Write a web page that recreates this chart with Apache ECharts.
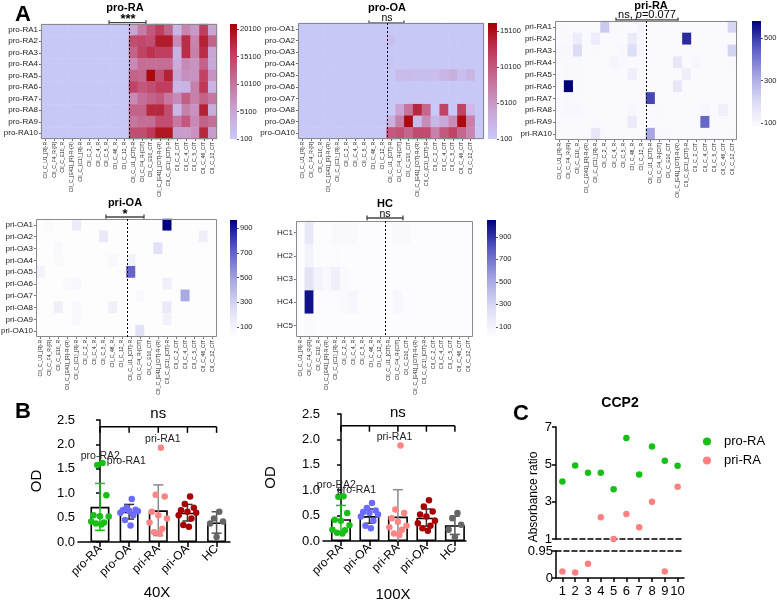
<!DOCTYPE html>
<html><head><meta charset="utf-8">
<script src="https://cdn.jsdelivr.net/npm/echarts@6.0.0/dist/echarts.min.js"></script>
<style>html,body{margin:0;padding:0;background:#fff;}#chart{width:777px;height:602px;}</style>
</head><body><div id="chart"></div>
<script>
// ================= DATA =================
const heatCols = ['CII_C_U1_[R]-R','CII_C_F4_R-[R]','CII_C_E10_R','CII_C_[E41]_[R]-R-(R)','CII_C_(C1)_[R]-R','CII_C_2_R','CII_C_4_R','CII_C_5_R','CII_C_46_R','CII_C_12_R','CII_C_U1_[CIT]-R','CII_C_F4_R-[CIT]','CII_C_E10_CIT','CII_C_[E41]_[CIT]-R-(R)','CII_C_(C1)_[CIT]-R','CII_C_2_CIT','CII_C_4_CIT','CII_C_5_CIT','CII_C_46_CIT','CII_C_12_CIT'];
const proRARows = ['pro-RA1','pro-RA2','pro-RA3','pro-RA4','pro-RA5','pro-RA6','pro-RA7','pro-RA8','pro-RA9','pro-RA10'];
const proOARows = ['pro-OA1','pro-OA2','pro-OA3','pro-OA4','pro-OA5','pro-OA6','pro-OA7','pro-OA8','pro-OA9','pro-OA10'];
const priRARows = ['pri-RA1','pri-RA2','pri-RA3','pri-RA4','pri-RA5','pri-RA6','pri-RA7','pri-RA8','pri-RA9','pri-RA10'];
const priOARows = ['pri-OA1','pri-OA2','pri-OA3','pri-OA4','pri-OA5','pri-OA6','pri-OA7','pri-OA8','pri-OA9','pri-OA10'];
const hcRows = ['HC1','HC2','HC3','HC4','HC5'];

const proRAHeat = [
 [100,100,100,100,100,100,100,100,100,100, 5000,9500,13000,15500,12000,2500,8500,6500,15500,5000],
 [100,100,100,100,100,100,100,100,100,100, 14000,14500,14000,18500,18500,8000,17000,8500,18000,12000],
 [100,100,100,100,100,100,100,100,100,100, 12000,15000,16500,15500,15500,3000,17000,9000,17000,5000],
 [100,100,100,100,100,100,100,100,100,100, 8000,11000,11000,11000,11000,4000,8000,7000,12000,4500],
 [100,100,100,100,100,100,100,100,100,100, 12000,11500,20100,14000,18000,5000,7500,7000,15000,7000],
 [100,100,100,100,100,100,100,100,100,100, 15000,13000,14000,15500,15500,2500,3000,9000,16000,3000],
 [100,100,100,100,100,100,100,100,100,100, 8000,11000,12000,13000,10000,8000,12500,9000,12000,10000],
 [100,100,100,100,100,100,100,100,100,100, 12000,12000,17500,17500,14000,2500,9000,7000,18000,4000],
 [100,100,100,100,100,100,100,100,100,100, 10000,11000,11000,14000,14000,10000,13000,8000,12000,11000],
 [100,100,100,100,100,100,100,100,100,100, 14000,14000,16000,19000,19000,6000,6000,7000,17500,6000]
];
const proOAHeat = [
 [100,100,100,100,100,100,100,100,100,100, 100,100,100,100,100,100,100,100,100,100],
 [100,100,100,100,100,100,100,100,100,100, 1000,100,100,100,100,100,100,100,100,100],
 [100,100,100,100,100,100,100,100,100,100, 100,100,100,100,100,100,100,100,100,100],
 [100,100,100,100,100,100,100,100,100,100, 500,100,100,100,100,100,100,100,100,100],
 [100,100,100,100,100,100,100,100,100,100, 100,1500,1500,1300,1300,1300,2200,2800,1300,2200],
 [100,100,100,100,100,100,100,100,100,100, 100,100,100,100,100,100,100,100,100,100],
 [100,100,100,100,100,100,100,100,100,100, 100,100,100,100,100,100,100,100,100,100],
 [100,100,100,100,100,100,100,100,100,100, 100,4000,8000,13500,9000,100,11500,100,11500,1500],
 [100,100,100,100,100,100,100,100,100,100, 2500,7000,15500,1500,6000,2000,3500,6000,15500,7000],
 [100,100,100,100,100,100,100,100,100,100, 10000,10500,9000,11000,11000,7000,10000,11500,9000,6500]
];
const priRAHeat = [
 [95,90,90,90,90,240,95,90,90,110, 90,90,90,90,90,90,90,90,90,210],
 [90,95,140,90,140,90,90,90,150,100, 85,90,90,90,520,90,90,90,90,90],
 [100,100,200,90,95,90,90,100,190,100, 90,90,90,90,90,90,90,90,90,220],
 [90,95,95,90,90,90,110,95,90,90, 90,90,90,160,90,105,90,90,90,95],
 [90,95,95,90,90,90,90,90,130,90, 90,90,90,90,130,90,90,90,90,90],
 [90,580,95,90,90,90,90,90,90,90, 90,90,90,160,90,90,90,90,90,90],
 [90,95,90,90,90,90,90,90,90,90, 480,90,90,90,90,90,90,90,90,90],
 [95,100,100,90,90,90,90,90,100,90, 90,95,90,90,90,90,105,90,130,90],
 [90,90,90,90,90,90,90,90,150,90, 90,90,90,90,90,90,430,90,90,90],
 [90,90,90,90,160,90,90,90,90,90, 320,95,95,90,90,90,90,90,90,95]
];
const priOAHeat = [
 [35,50,35,35,150,35,35,35,35,35, 35,35,35,35,965,35,35,35,35,35],
 [35,35,35,35,35,35,35,170,35,35, 35,35,35,35,35,35,35,35,130,35],
 [35,35,60,35,35,35,35,35,35,35, 35,35,35,220,35,35,35,35,35,35],
 [35,35,55,35,35,35,35,35,60,35, 110,35,35,35,35,35,35,35,35,35],
 [110,35,35,35,35,35,35,35,35,35, 700,35,35,35,35,35,35,35,35,35],
 [35,35,35,55,70,35,35,35,35,35, 35,35,35,35,120,35,35,35,35,35],
 [35,35,35,35,35,35,35,35,35,35, 35,50,35,35,35,35,470,35,35,35],
 [35,35,120,35,60,35,35,35,120,35, 35,35,35,35,160,35,35,35,35,35],
 [35,35,35,35,60,35,35,35,35,35, 35,35,35,35,110,35,35,35,35,35],
 [35,35,35,35,35,35,35,35,35,35, 35,210,35,35,35,35,35,35,35,35]
];
const hcHeat = [
 [30,180,30,30,60,60,55,30,30,30, 30,55,60,30,30,30,30,30,30,30],
 [30,100,30,30,40,30,30,30,30,30, 30,30,30,30,30,30,30,30,30,30],
 [30,210,100,60,120,50,30,30,30,30, 30,30,30,30,30,30,30,30,30,30],
 [30,1000,30,30,40,50,80,30,30,30, 30,70,30,30,30,30,30,30,30,30],
 [30,50,30,30,30,30,30,30,30,30, 30,30,30,30,30,30,30,30,30,30]
];
const proRATicks = [100,5100,10100,15100,20100];
const proOATicks = [100,5100,10100,15100];
const priRATicks = [100,300,500];
const priOATicks = [100,300,500,700,900];
const hcTicks = [100,300,500,700,900];

const barCats40 = ['pro-RA','pro-OA','pri-RA','pri-OA','HC'];
const barCats100 = ['pro-RA','pri-OA','pri-RA','pri-OA','HC'];
const mean40 = [0.72,0.62,0.65,0.60,0.40];
const sd40 = [0.48,0.15,0.52,0.17,0.22];
const mean100 = [0.43,0.49,0.48,0.46,0.31];
const sd100 = [0.27,0.14,0.53,0.17,0.18];
const od40_proRA = [1.62,1.58,0.96,0.55,0.53,0.52,0.42,0.40,0.38,0.36];
const od40_proOA = [0.88,0.70,0.66,0.65,0.64,0.63,0.60,0.55,0.45,0.34];
const od40_priRA = [1.93,0.97,0.93,0.62,0.55,0.48,0.40,0.27,0.20,0.17];
const od40_priOA = [0.93,0.78,0.70,0.65,0.62,0.60,0.55,0.48,0.35,0.31];
const od40_HC = [0.62,0.48,0.42,0.38,0.10];
const od100_proRA = [0.88,0.87,0.55,0.42,0.40,0.31,0.22,0.21,0.16,0.15];
const od100_g2 = [0.75,0.65,0.60,0.57,0.55,0.52,0.48,0.40,0.30,0.25];
const od100_priRA = [1.88,0.62,0.55,0.45,0.38,0.30,0.27,0.22,0.15,0.12];
const od100_priOA = [0.80,0.68,0.58,0.52,0.48,0.40,0.35,0.30,0.25,0.20];
const od100_HC = [0.55,0.45,0.32,0.22,0.08];

const ccpIdx = ['1','2','3','4','5','6','7','8','9','10'];
const ccpProRA = [4.08,4.94,4.55,4.55,3.67,6.41,4.46,5.95,5.19,4.92];
const ccpPriRA = [0.23,0.19,0.50,2.16,1.00,2.34,1.63,2.99,0.23,3.80];
const ccpUpperTicks = [1,3,5,7];
const ccpLowerTicks = [0,0.95];

// ================= STYLE / BUILD =================
const FONT = '"Liberation Sans", Arial, Helvetica, sans-serif';
const redScale = ['#c8c8f7', '#c9a3d3', '#c5729a', '#bf3b5c', '#a50000'];
const blueScale = ['#ffffff', '#dcdcf5', '#a4a4e2', '#5a5ac4', '#00007c'];
const grpColors = ['#16c016', '#6b6bff', '#ff8585', '#a80000', '#666666'];
const errColors = ['#16c016', '#333333', '#8a8a8a', '#333333', '#555555'];
const J = [0.09, -0.09, 0.22, -0.22, 0.0, 0.3, -0.3, 0.14, -0.14, 0.05];

const opt = {animation:false, backgroundColor:'#fff', textStyle:{fontFamily:FONT},
  grid:[], xAxis:[], yAxis:[], series:[], visualMap:[], graphic:{elements:[]}};

function addHeat(rows, vals, L, cb, colors, range, ticks, pad) {
  const gi = opt.grid.length;
  opt.grid.push({left:L.x, top:L.y, width:L.w, height:L.h, outerBoundsMode:'none'});
  const cats = pad ? heatCols.concat(['']) : heatCols.slice();
  const xi = opt.xAxis.length, yi = opt.yAxis.length;
  opt.xAxis.push({type:'category', gridIndex:gi, data:cats,
    axisLine:{show:false},
    axisTick:{show:true, alignWithLabel:true, length:2, interval:(i)=>i<heatCols.length, lineStyle:{color:'#666'}},
    axisLabel:{rotate:90, fontSize:5, interval:0, margin:3, color:'#222', fontFamily:FONT},
    splitLine:{show:false}});
  opt.yAxis.push({type:'category', gridIndex:gi, data:rows, inverse:true,
    axisLine:{show:false}, splitLine:{show:false},
    axisTick:{show:true, alignWithLabel:true, length:2, lineStyle:{color:'#666'}},
    axisLabel:{fontSize:8, margin:3, color:'#222', fontFamily:FONT}});
  const data = [];
  vals.forEach((r, ri) => r.forEach((v, ci) => data.push([ci, ri, v])));
  if (pad) rows.forEach((_, ri) => data.push([heatCols.length, ri, range[0]]));
  const si = opt.series.length;
  opt.series.push({type:'heatmap', xAxisIndex:xi, yAxisIndex:yi, data, itemStyle:{borderWidth:0}, emphasis:{disabled:true}, progressive:0, silent:true, z:2});
  opt.visualMap.push({type:'continuous', show:false, seriesIndex:si, dimension:2, min:range[0], max:range[1], inRange:{color:colors}});
  // frame + dotted divider between the two column groups
  opt.series.push({type:'custom', xAxisIndex:xi, yAxisIndex:yi, silent:true, z:6, clip:false, data:[[0,0]],
    renderItem:(params, api) => {
      const cs = params.coordSys;
      const xm = Math.round(cs.x + cs.width * (heatCols.length/2) / cats.length) + 0.5;
      return {type:'group', children:[
        {type:'rect', shape:{x:cs.x+0.5, y:cs.y+0.5, width:cs.width-1, height:cs.height-1}, style:{fill:'none', stroke:'#8a8a8a', lineWidth:1}},
        {type:'line', shape:{x1:xm, y1:cs.y, x2:xm, y2:cs.y+cs.height}, style:{stroke:'#000', lineWidth:1, lineDash:[2,2]}}
      ]};
    }});
  // colour bar
  const cg = opt.grid.length;
  opt.grid.push({left:cb.x, top:cb.y, width:cb.w, height:cb.h, outerBoundsMode:'none'});
  const cx = opt.xAxis.length, cy = opt.yAxis.length;
  opt.xAxis.push({type:'category', gridIndex:cg, data:['c'], show:false});
  opt.yAxis.push({type:'value', gridIndex:cg, min:range[0], max:range[1], position:'right',
    axisLine:{show:false}, splitLine:{show:false},
    axisTick:{show:true, length:2, customValues:ticks, lineStyle:{color:'#555'}},
    axisLabel:{customValues:ticks, formatter:(v)=>String(v), fontSize:7.5, margin:3, color:'#222', fontFamily:FONT}});
  opt.series.push({type:'bar', xAxisIndex:cx, yAxisIndex:cy, stack:'cb'+cg, data:[range[0]], barWidth:'100%', silent:true, itemStyle:{color:'rgba(0,0,0,0)'}});
  opt.series.push({type:'bar', xAxisIndex:cx, yAxisIndex:cy, stack:'cb'+cg, data:[range[1]-range[0]], barWidth:'100%', silent:true,
    itemStyle:{color:new echarts.graphic.LinearGradient(0,1,0,0, colors.map((c,i)=>({offset:i/(colors.length-1), color:c})))}});
}

addHeat(proRARows, proRAHeat, {x:41,y:24,w:176,h:115}, {x:230,y:24,w:7,h:115}, redScale, [100,21000], proRATicks, false);
addHeat(proOARows, proOAHeat, {x:298,y:23,w:186,h:116}, {x:488,y:23,w:9,h:116}, redScale, [100,16200], proOATicks, true);
addHeat(priRARows, priRAHeat, {x:555,y:21,w:182,h:119}, {x:752,y:21,w:9,h:108}, blueScale, [72,580], priRATicks, false);
addHeat(priOARows, priOAHeat, {x:36,y:219,w:181,h:118}, {x:230,y:220,w:7,h:117}, blueScale, [19,965], priOATicks, false);
addHeat(hcRows, hcHeat, {x:296,y:221,w:177,h:116}, {x:487,y:220,w:9,h:117}, blueScale, [10,1050], hcTicks, false);

function addBarPanel(p) {
  const gi = opt.grid.length;
  opt.grid.push({left:p.x, top:p.y, width:p.w, height:p.h, outerBoundsMode:'none'});
  const xi = opt.xAxis.length, yi = opt.yAxis.length;
  const idx = p.cats.map((_, i) => i);
  opt.xAxis.push({type:'value', gridIndex:gi, min:p.xmin, max:p.xmax, splitLine:{show:false},
    axisLine:{show:true, onZero:false, lineStyle:{color:'#000', width:1.5}},
    axisTick:{show:true, customValues:idx, length:5, lineStyle:{color:'#000', width:1.5}},
    axisLabel:{customValues:idx, formatter:(v)=>p.cats[Math.round(v)], rotate:45, fontSize:12, color:'#000', margin:5, fontFamily:FONT}});
  opt.yAxis.push({type:'value', gridIndex:gi, min:0, max:2.5, interval:0.5, splitLine:{show:false},
    axisLine:{show:true, lineStyle:{color:'#000', width:1.5}},
    axisTick:{show:true, length:4, lineStyle:{color:'#000', width:1.5}},
    axisLabel:{formatter:(v)=>v.toFixed(1), fontSize:13, color:'#000', margin:3, fontFamily:FONT},
    name:'OD', nameLocation:'middle', nameGap:p.nameGap, nameTextStyle:{fontSize:15, color:'#000', fontFamily:FONT}});
  opt.series.push({type:'bar', xAxisIndex:xi, yAxisIndex:yi, data:p.means.map((m,i)=>[i,m]), barWidth:p.barW, silent:true,
    itemStyle:{color:'#fff', borderColor:'#000', borderWidth:1.6}, z:2});
  opt.series.push({type:'custom', xAxisIndex:xi, yAxisIndex:yi, silent:true, z:3,
    data:p.means.map((m,i)=>[i, m-p.sds[i], m+p.sds[i]]),
    renderItem:(params, api) => {
      const x = api.value(0), lo = api.value(1), hi = api.value(2);
      const t = api.coord([x, hi]), b = api.coord([x, Math.max(lo, 0)]);
      const col = errColors[params.dataIndex], w = 5;
      const st = {stroke:col, lineWidth:1.5};
      const ch = [{type:'line', shape:{x1:t[0], y1:t[1], x2:b[0], y2:b[1]}, style:st},
                  {type:'line', shape:{x1:t[0]-w, y1:t[1], x2:t[0]+w, y2:t[1]}, style:st}];
      if (lo > 0) ch.push({type:'line', shape:{x1:b[0]-w, y1:b[1], x2:b[0]+w, y2:b[1]}, style:st});
      return {type:'group', children:ch};
    }});
  p.groups.forEach((vals, g) => {
    const order = vals.map((v,i)=>i).sort((a,b)=>vals[b]-vals[a]);
    const rank = []; order.forEach((i,r)=>{rank[i]=r;});
    const data = vals.map((v,i) => {
      const item = {value:[g + J[rank[i] % J.length], v]};
      const lab = p.labels.find(l => l.g === g && l.i === i);
      if (lab) item.label = {show:true, formatter:lab.text, position:lab.pos, offset:lab.off, distance:lab.dist,
        fontSize:10.5, color:'#222', fontFamily:FONT};
      return item;
    });
    opt.series.push({type:'scatter', name:p.tag + g, xAxisIndex:xi, yAxisIndex:yi, data, symbolSize:6.5, silent:true,
      itemStyle:{color:grpColors[g], opacity:1}, z:4, clip:false});
  });
  opt.series.push({type:'custom', xAxisIndex:xi, yAxisIndex:yi, silent:true, z:4, clip:false,
    data:[[0, p.brY]],
    renderItem:(params, api) => {
      const xs = idx.map(i => api.coord([i, p.brY])[0]);
      const y = api.coord([0, p.brY])[1];
      const st = {stroke:'#000', lineWidth:1.5};
      const ch = [{type:'line', shape:{x1:xs[0], y1:y, x2:xs[xs.length-1], y2:y}, style:st}];
      xs.forEach(x => ch.push({type:'line', shape:{x1:x, y1:y, x2:x, y2:y+6}, style:st}));
      ch.push({type:'text', x:(xs[0]+xs[xs.length-1])/2, y:y-13, style:{text:'ns', fill:'#000', font:'15px ' + FONT, align:'center', verticalAlign:'middle'}});
      return {type:'group', children:ch};
    }});
}

addBarPanel({tag:'b40-', x:78, y:420, w:152, h:122, xmin:-0.753, xmax:4.46, barW:19, nameGap:34,
  cats:barCats40, means:mean40, sds:sd40, brY:2.36,
  groups:[od40_proRA, od40_proOA, od40_priRA, od40_priOA, od40_HC],
  labels:[{g:0,i:0,text:'pro-RA1',pos:'right',off:[-2,-2],dist:3},
          {g:0,i:1,text:'pro-RA2',pos:'top',off:[3,0],dist:0},
          {g:2,i:0,text:'pri-RA1',pos:'top',off:[2,0],dist:0}]});
addBarPanel({tag:'b100-', x:323, y:414, w:143, h:127, xmin:-0.63, xmax:4.39, barW:20, nameGap:45,
  cats:barCats100, means:mean100, sds:sd100, brY:2.27,
  groups:[od100_proRA, od100_g2, od100_priRA, od100_priOA, od100_HC],
  labels:[{g:0,i:0,text:'pro-RA1',pos:'top',off:[13,3],dist:0},
          {g:0,i:1,text:'pro-RA2',pos:'top',off:[-2,-3],dist:0},
          {g:2,i:0,text:'pri-RA1',pos:'top',off:[-6,0],dist:0}]});

// ---- Panel C (broken y axis) ----
(function(){
  const gU = opt.grid.length;
  opt.grid.push({left:556, top:427, width:128, height:112, outerBoundsMode:'none'});
  const gL = opt.grid.length;
  opt.grid.push({left:556, top:551, width:128, height:27, outerBoundsMode:'none'});
  const dash = {color:'#000', width:1.6, type:[5,3]};
  const xU = opt.xAxis.length;
  opt.xAxis.push({type:'category', gridIndex:gU, data:ccpIdx, axisLine:{show:true, onZero:false, lineStyle:dash}, axisTick:{show:false}, axisLabel:{show:false}, splitLine:{show:false}});
  const xL = opt.xAxis.length;
  opt.xAxis.push({type:'category', gridIndex:gL, data:ccpIdx, position:'bottom',
    axisLine:{show:true, onZero:false, lineStyle:{color:'#000', width:1.5}},
    axisTick:{show:true, alignWithLabel:true, length:4, lineStyle:{color:'#000', width:1.5}},
    axisLabel:{interval:0, fontSize:13, color:'#000', margin:7, fontFamily:FONT}});
  opt.xAxis.push({type:'category', gridIndex:gL, data:ccpIdx, position:'top', axisLine:{show:true, onZero:false, lineStyle:dash}, axisTick:{show:false}, axisLabel:{show:false}});
  const yU = opt.yAxis.length;
  opt.yAxis.push({type:'value', gridIndex:gU, min:1, max:7, interval:2, splitLine:{show:false},
    axisLine:{show:true, lineStyle:{color:'#000', width:1.5}},
    axisTick:{show:true, length:4, customValues:ccpUpperTicks, lineStyle:{color:'#000', width:1.5}},
    axisLabel:{customValues:ccpUpperTicks, fontSize:13, color:'#000', margin:4, fontFamily:FONT}});
  const yL = opt.yAxis.length;
  opt.yAxis.push({type:'value', gridIndex:gL, min:0, max:0.95, splitLine:{show:false},
    axisLine:{show:true, lineStyle:{color:'#000', width:1.5}},
    axisTick:{show:true, length:4, customValues:ccpLowerTicks, lineStyle:{color:'#000', width:1.5}},
    axisLabel:{customValues:ccpLowerTicks, formatter:(v)=>String(v), fontSize:13, color:'#000', margin:3, fontFamily:FONT}});
  const sets = [['pro-RA', ccpProRA, '#16c016'], ['pri-RA', ccpPriRA, '#ff8080']];
  sets.forEach(([name, vals, col]) => {
    opt.series.push({type:'scatter', name, xAxisIndex:xU, yAxisIndex:yU, symbolSize:6.5, silent:true, itemStyle:{color:col, opacity:1}, z:4,
      data:vals.map((v,i)=> v >= 1 ? [i, v] : [i, '-'])});
    opt.series.push({type:'scatter', name, xAxisIndex:xL, yAxisIndex:yL, symbolSize:6.5, silent:true, itemStyle:{color:col, opacity:1}, z:4,
      data:vals.map((v,i)=> v <= 0.95 ? [i, v] : [i, '-'])});
  });
  opt.legend = {data:['pro-RA','pri-RA'], orient:'vertical', left:698, top:430, itemWidth:8, itemHeight:8, itemGap:6, icon:'circle',
    selectedMode:false, textStyle:{fontSize:13, color:'#000', fontFamily:FONT, padding:[0,0,0,8]}};
})();

// ---- annotations ----
const G = opt.graphic.elements;
function txt(x, y, text, size, bold, extra) {
  G.push(Object.assign({type:'text', x, y, silent:true,
    style:{text, fill:'#000', font:(bold?'bold ':'') + size + 'px ' + FONT, align:'center', verticalAlign:'middle'}}, extra || {}));
}
function bracket(x1, x2, y, col) {
  const st = {stroke:col || '#444', lineWidth:1.3};
  G.push({type:'line', silent:true, shape:{x1, y1:y, x2, y2:y}, style:st});
  G.push({type:'line', silent:true, shape:{x1, y1:y-2.5, x2:x1, y2:y+2.5}, style:st});
  G.push({type:'line', silent:true, shape:{x1:x2, y1:y-2.5, x2:x2, y2:y+2.5}, style:st});
}
txt(23, 15, 'A', 22, true);
txt(23, 412, 'B', 22, true);
txt(521, 414, 'C', 22, true);
txt(125, 8, 'pro-RA', 11, true); txt(128, 19, '***', 13, true); bracket(109, 146, 22.7);
txt(387, 8, 'pro-OA', 11, true); txt(387, 18, 'ns', 10.5, false); bracket(369, 404, 23);
txt(383, 100, '*', 13, true); bracket(367, 401, 103, '#555');
txt(651, 6, 'pri-RA', 11, true); bracket(616, 678, 20);
G.push({type:'text', x:647, y:15, silent:true, style:{text:'{a|ns, }{b|p}{a|=0.077}', align:'center', verticalAlign:'middle',
  rich:{a:{font:'11px ' + FONT, fill:'#000'}, b:{font:'italic 11px ' + FONT, fill:'#000'}}}});
txt(125, 203, 'pri-OA', 11, true); txt(125, 214, '*', 13, true); bracket(106, 144, 217);
txt(385, 204, 'HC', 11, true); txt(385, 214, 'ns', 10.5, false); bracket(367, 403, 218);
txt(157, 593, '40X', 15, false);
txt(393, 595, '100X', 15, false);
txt(620, 403, 'CCP2', 14, true);
txt(534, 497, 'Absorbance ratio', 12, false, {rotation:Math.PI/2});

const chart = echarts.init(document.getElementById('chart'), null, {renderer:'canvas'});
chart.setOption(opt);
</script>
</body></html>
